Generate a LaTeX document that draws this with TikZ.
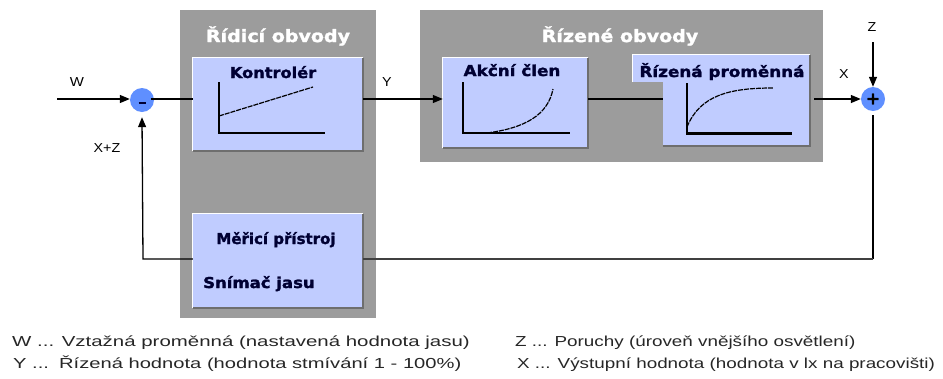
\documentclass[tikz,border=0pt]{standalone}
\usepackage{fontspec}
\setmainfont{Liberation Sans}
\newfontfamily\djv[FakeBold=1.6]{DejaVu Sans}
\usepackage{graphicx}
\usetikzlibrary{arrows.meta}
\definecolor{boxgray}{HTML}{9C9C9C}
\definecolor{boxblue}{HTML}{C0CCFF}
\definecolor{sumblue}{HTML}{5F8FFF}
\definecolor{navy}{HTML}{000033}
\definecolor{shadowgray}{HTML}{6E6E6E}
\begin{document}
\begin{tikzpicture}[x=1pt,y=-1pt,
  panel/.style={fill=boxgray,draw=none,inner sep=0},
  block/.style={fill=boxblue,draw=none,inner sep=0},
  paneltitle/.style={text=white,font=\djv\bfseries\fontsize{17}{20}\selectfont,inner sep=0},
  blabel/.style={text=navy,font=\djv\bfseries\fontsize{15}{18}\selectfont,inner sep=0,anchor=base},
  sig/.style={font=\fontsize{13}{15}\selectfont,inner sep=0},
  legend/.style={font=\fontsize{14.5}{17}\selectfont,inner sep=0,anchor=base west,text=black!85},
  sumnode/.style={circle,fill=sumblue,minimum size=24pt,inner sep=0},
  conn/.style={line width=1.3pt},
  arr/.style={conn,-{Triangle[length=10pt,width=8pt]}},
  axis/.style={line width=1.3pt},
  curve/.style={line width=1.2pt,dash pattern=on 5pt off 1pt},
  lightedge/.style={white,line width=1pt},
  darkedge/.style={shadowgray,line width=1.5pt},
]
\useasboundingbox (0,0) rectangle (943,378);

% panels
\node[panel,minimum width=196pt,minimum height=308pt] (ctrl) at (278,164) {};
\node[panel,minimum width=403pt,minimum height=152pt] (plant) at (621.5,86) {};
\node[paneltitle] (t1) at (278,36) {\scalebox{1.12}[1]{Řídicí obvody}};
\node[paneltitle] (t2) at (620,36) {\scalebox{1.12}[1]{Řízené obvody}};

% blocks
\node[block,minimum width=170pt,minimum height=93pt] (kon) at (278,104.5) {};
\node[block,minimum width=145pt,minimum height=90pt] (akc) at (515.5,103) {};
\node[block,minimum width=147pt,minimum height=91pt] (riz) at (736.5,100.5) {};
\node[block,minimum width=177pt,minimum height=27pt] (riztab) at (721.5,68.5) {};
\node[block,minimum width=170pt,minimum height=94pt] (mer) at (278,261) {};

\foreach \b in {kon,akc,mer}{
  \draw[lightedge] (\b.south west) -- (\b.north west) -- (\b.north east);
  \draw[darkedge] (\b.north east) -- (\b.south east) -- (\b.south west);
}
\draw[lightedge] (riztab.south west) -- (riztab.north west) -- (riztab.north east);
\draw[darkedge] (riz.north east) -- (riz.south east) -- (riz.south west);

% block labels
\node[blabel] (konl) at (273,78) {\scalebox{1.08}[1]{Kontrolér}};
\node[blabel] (akcl) at (512,76) {\scalebox{1.12}[1]{Akční člen}};
\node[blabel] (rizl) at (722,77) {\scalebox{1.12}[1]{Řízená proměnná}};
\node[blabel] (merl) at (276,244) {Měřicí přístroj};
\node[blabel,anchor=base west] (snl) at (203,288) {\scalebox{1.1}[1]{Snímač jasu}};

% graphs
\draw[axis] (219,82) -- (219,133) -- (325,133);
\draw[curve] (219,116) -- (313,87);
\draw[axis] (463,82) -- (463,133) -- (570,133);
\draw[curve] (487,133) .. controls (525,128) and (548,115) .. (553,89);
\draw[axis] (687,83) -- (687,133);
\draw[line width=3pt] (686,133) -- (792,133);
\draw[curve] (687,127) .. controls (700,95) and (730,88) .. (773,88);

% summing junctions
\node[sumnode] (minus) at (142,100) {};
\draw[navy,line width=1.6pt] ([xshift=-3.5pt,yshift=-3pt]minus.center) -- ([xshift=3.5pt,yshift=-3pt]minus.center);
\node[sumnode] (plus) at (873,99) {\djv\bfseries\fontsize{17}{17}\selectfont +};

% connectors
\coordinate (win) at (57,99);
\coordinate (zin) at (873,42);
\coordinate (fbr) at (873,259);
\coordinate (fbl) at (143,259);
\draw[arr] (win) -- (minus.west |- win);
\draw[conn,shorten <=9pt] (minus.center |- win) -- (kon.west |- win);
\draw[arr] (kon.east |- win) -- (akc.west |- win);
\draw[conn] (akc.east |- win) -- (riz.west |- win);
\draw[arr,shorten <=4pt] (riz.east |- win) -- (plus);
\draw[arr] (zin) -- (plus);
\draw[line width=2.2pt,shorten <=4pt] (plus.south) -- (fbr);
\draw[line width=1.6pt,black!75] (fbr) -- (mer.east |- fbr);
\draw[arr] (mer.west |- fbl) -- (fbl) -- ([yshift=-5pt]minus.south);

% signal labels
\node[sig] (lw) at (77,82) {\scalebox{1.15}[1]{W}};
\node[sig] (ly) at (387,82) {\scalebox{1.1}[1]{Y}};
\node[sig] (lx) at (844,74) {\scalebox{1.1}[1]{X}};
\node[sig] (lz) at (872,27) {\scalebox{1.1}[1]{Z}};
\node[sig] (lxz) at (107,148) {\scalebox{1.1}[1]{X+Z}};

% legend
\node[legend] (l1) at (12,346) {\scalebox{1.41}[1]{W ... Vztažná proměnná (nastavená hodnota jasu)}};
\node[legend] (l2) at (13,368) {\scalebox{1.39}[1]{Y ...\enspace Řízená hodnota (hodnota stmívání 1 - 100\%)}};
\node[legend] (l3) at (515,346) {\scalebox{1.3}[1]{Z ... Poruchy (úroveň vnějšího osvětlení)}};
\node[legend] (l4) at (517,368) {\scalebox{1.3}[1]{X ... Výstupní hodnota (hodnota v lx na pracovišti)}};
\end{tikzpicture}
\end{document}
